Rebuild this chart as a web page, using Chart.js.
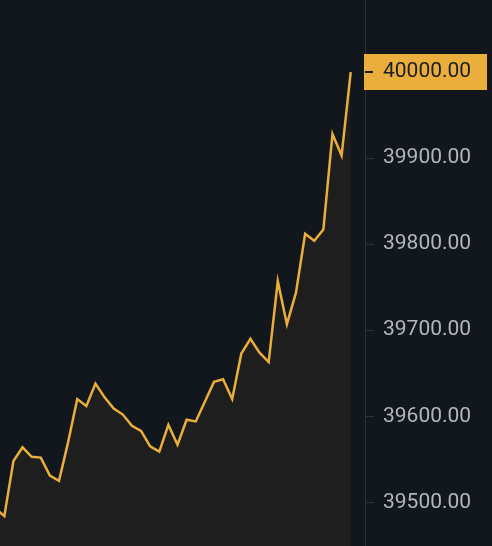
<!DOCTYPE html>
<html>
<head>
<meta charset="utf-8">
<script src="https://cdn.jsdelivr.net/npm/chart.js@4/dist/chart.umd.min.js"></script>
<style>
  html, body { margin: 0; padding: 0; background: #12161d; }
  #wrap { width: 492px; height: 546px; }
</style>
</head>
<body>
<div id="wrap"><canvas id="priceChart"></canvas></div>
<script>
// Données
const steps = [0, 1, 2, 3, 4, 5, 6, 7, 8, 9, 10, 11, 12, 13, 14, 15, 16, 17, 18, 19,
               20, 21, 22, 23, 24, 25, 26, 27, 28, 29, 30, 31, 32, 33, 34, 35, 36, 37, 38, 39];
const prices = [39493, 39484, 39548, 39564, 39553, 39552, 39531, 39525, 39570, 39620,
                39612, 39638, 39622, 39609, 39602, 39589, 39583, 39565, 39559, 39590,
                39567, 39596, 39594, 39617, 39640, 39643, 39620, 39673, 39690, 39674,
                39663, 39757, 39707, 39744, 39812, 39804, 39817, 39928, 39903, 40000];
const yTicks = [39500, 39600, 39700, 39800, 39900, 40000];

const yellow = '#E9AE3B';
const axisGray = '#2B3039';

// Étiquette du dernier prix sur l'axe de droite
const lastPriceTag = {
    id: 'lastPriceTag',
    afterDraw(chart) {
        const { ctx, scales: { y } } = chart;
        const last = prices[prices.length - 1];
        const py = Math.round(y.getPixelForValue(last));
        ctx.save();
        ctx.fillStyle = yellow;
        ctx.fillRect(y.left - 1, py - 18, 123, 36);
        ctx.fillStyle = '#1B1D22';
        ctx.fillRect(y.left, py - 1, 8, 2);
        ctx.font = '21px Roboto';
        ctx.textBaseline = 'middle';
        ctx.textAlign = 'left';
        ctx.fillText(last.toFixed(2), y.left + 18, py);
        ctx.restore();
    }
};

const ctx = document.getElementById('priceChart').getContext('2d');
new Chart(ctx, {
    type: 'line',
    data: {
        datasets: [{
            data: steps.map((s, i) => ({ x: s, y: prices[i] })),
            borderColor: yellow,
            borderWidth: 2.5,
            backgroundColor: '#1f1e1e',
            fill: 'start',
            tension: 0,
            pointRadius: 0
        }]
    },
    options: {
        responsive: true,
        maintainAspectRatio: false,
        animation: false,
        layout: { padding: 0 },
        plugins: {
            legend: { display: false },
            tooltip: { enabled: false }
        },
        scales: {
            x: {
                type: 'linear',
                display: false,
                min: 0.527,
                max: 40.567
            },
            y: {
                position: 'right',
                min: 39449.3,
                max: 40083.7,
                afterBuildTicks: (axis) => {
                    axis.ticks = yTicks.map(v => ({ value: v }));
                },
                afterFit: (axis) => {
                    axis.width = 127;
                    axis.paddingTop = 0;
                    axis.paddingBottom = 0;
                },
                grid: {
                    drawOnChartArea: false,
                    drawTicks: true,
                    tickLength: 9,
                    color: axisGray
                },
                border: { display: true, color: axisGray },
                ticks: {
                    padding: 9,
                    color: '#B1B6BF',
                    font: { family: 'Roboto', size: 21 },
                    callback: (v) => Number(v).toFixed(2)
                }
            }
        }
    },
    plugins: [lastPriceTag]
});
</script>
</body>
</html>
